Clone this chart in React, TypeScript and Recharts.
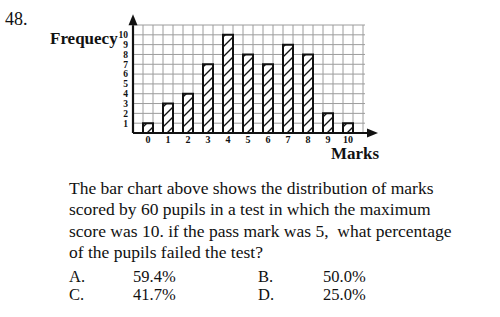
import { BarChart, Bar, XAxis, YAxis, CartesianGrid, ReferenceLine } from "recharts";

const marks = [0, 1, 2, 3, 4, 5, 6, 7, 8, 9, 10];
const frequencies = [1, 3, 4, 7, 10, 8, 7, 9, 8, 2, 1];
const yTicks = [0, 1, 2, 3, 4, 5, 6, 7, 8, 9, 10, 11];
// vertical grid every half mark, starting at the y axis
const gridX = Array.from({ length: 24 }, (_, i) => -0.75 + i * 0.5);
const X_DOMAIN: [number, number] = [-0.75, 10.85];

const data = marks.map((m, i) => ({ mark: m, freq: frequencies[i] }));

const serif = '"Liberation Serif", "Times New Roman", serif';

const ArrowLine = (props: any) => {
  const { x1, y1, x2, y2 } = props;
  const ang = Math.atan2(y2 - y1, x2 - x1);
  const len = 11;
  const half = 4.5;
  const bx = x2 - len * Math.cos(ang);
  const by = y2 - len * Math.sin(ang);
  const px = -Math.sin(ang) * half;
  const py = Math.cos(ang) * half;
  return (
    <g>
      <line x1={x1} y1={y1} x2={bx} y2={by} stroke="#111" strokeWidth={2.2} />
      <polygon
        points={`${x2},${y2} ${bx + px},${by + py} ${bx - px},${by - py}`}
        fill="#111"
      />
    </g>
  );
};

const verticalGrid = ({ xAxis, offset }: any) => {
  if (xAxis && typeof xAxis.scale === "function") {
    return gridX.map((v) => xAxis.scale(v));
  }
  // fallback: map through the plot area linearly
  const [d0, d1] = X_DOMAIN;
  return gridX.map((v) => offset.left + ((v - d0) / (d1 - d0)) * offset.width);
};

export default function App() {
  return (
    <div
      style={{
        position: "absolute",
        top: 0,
        left: 0,
        width: 500,
        height: 317,
        background: "#fff",
        fontFamily: serif,
        color: "#111",
      }}>
      <div style={{ position: "absolute", left: 5, top: 9, fontSize: 18 }}>48.</div>
      <div
        style={{
          position: "absolute",
          left: 50,
          top: 29,
          fontSize: 17,
          fontWeight: "bold",
        }}>
        Frequecy
      </div>
      <div
        style={{
          position: "absolute",
          left: 331,
          top: 144,
          fontSize: 17,
          fontWeight: "bold",
        }}>
        Marks
      </div>

      <div style={{ position: "absolute", left: 0, top: 0 }}>
        <BarChart
          width={500}
          height={170}
          data={data}
          margin={{ top: 25, right: 135, left: 113, bottom: 17 }}>
          <defs>
            <pattern id="hatch" patternUnits="userSpaceOnUse" width="10" height="10">
              <rect width="10" height="10" fill="#fff" />
              <path
                d="M0,10 L10,0 M-2,2 L2,-2 M8,12 L12,8"
                stroke="#111"
                strokeWidth={1.4}
              />
            </pattern>
          </defs>
          <XAxis
            type="number"
            dataKey="mark"
            domain={X_DOMAIN}
            ticks={marks}
            interval={0}
            allowDataOverflow
            axisLine={false}
            tickLine={false}
            tickSize={0}
            tickMargin={3}
            height={20}
            tick={{ fill: "#111", fontSize: 10, fontWeight: "bold", fontFamily: serif }}
          />
          <YAxis
            type="number"
            domain={[0, 11]}
            ticks={yTicks}
            interval={0}
            width={20}
            axisLine={false}
            tickLine={false}
            tickSize={0}
            tickMargin={5}
            tickFormatter={(v: number) => (v === 0 || v === 11 ? "" : String(v))}
            tick={{ fill: "#111", fontSize: 9.5, fontWeight: "bold", fontFamily: serif }}
          />
          <CartesianGrid
            stroke="#9c9c9c"
            strokeWidth={1}
            verticalCoordinatesGenerator={verticalGrid}
          />
          <Bar
            dataKey="freq"
            barSize={10}
            fill="url(#hatch)"
            stroke="#111"
            strokeWidth={2}
            isAnimationActive={false}
          />
          <ReferenceLine
            segment={[
              { x: -0.75, y: 0 },
              { x: -0.75, y: 12.1 },
            ]}
            ifOverflow="visible"
            shape={ArrowLine}
          />
          <ReferenceLine
            segment={[
              { x: -0.75, y: 0 },
              { x: 11.5, y: 0 },
            ]}
            ifOverflow="visible"
            shape={ArrowLine}
          />
        </BarChart>
      </div>

      <div
        style={{
          position: "absolute",
          left: 69,
          top: 178,
          fontSize: 17.5,
          lineHeight: "21.3px",
          whiteSpace: "nowrap",
        }}>
        <div>The bar chart above shows the distribution of marks</div>
        <div>scored by 60 pupils in a test in which the maximum</div>
        <div>score was 10. if the pass mark was 5,&nbsp; what percentage</div>
        <div>of the pupils failed the test?</div>
      </div>

      {[
        { top: 267, l1: "A.", v1: "59.4%", l2: "B.", v2: "50.0%" },
        { top: 285, l1: "C.", v1: "41.7%", l2: "D.", v2: "25.0%" },
      ].map((row) => (
        <div key={row.l1} style={{ position: "absolute", top: row.top, left: 0, fontSize: 16.5 }}>
          <span style={{ position: "absolute", left: 69 }}>{row.l1}</span>
          <span style={{ position: "absolute", left: 133 }}>{row.v1}</span>
          <span style={{ position: "absolute", left: 258 }}>{row.l2}</span>
          <span style={{ position: "absolute", left: 323 }}>{row.v2}</span>
        </div>
      ))}
    </div>
  );
}
